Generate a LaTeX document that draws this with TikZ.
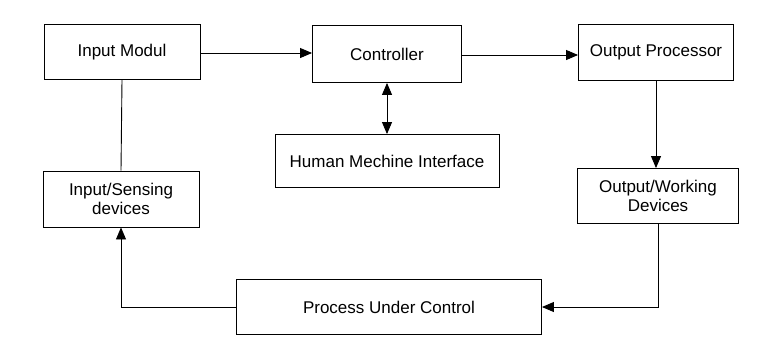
\documentclass[tikz,border=0pt]{standalone}
\usepackage{fontspec}
\setmainfont{Liberation Sans}
\usetikzlibrary{arrows.meta}
\begin{document}
\begin{tikzpicture}[x=1pt,y=-1pt,
  blk/.style={draw, line width=0.9pt, align=center, inner sep=0pt,
    font=\fontsize{17}{19.5}\selectfont},
  conn/.style={line width=0.9pt},
  arr/.style={conn, -{Triangle[length=12pt,width=10pt]}},
  darr/.style={conn, {Triangle[length=12pt,width=10pt]}-{Triangle[length=12pt,width=10pt]}}]
\useasboundingbox (0,0) rectangle (763,354);
\node[blk, minimum width=156pt, minimum height=55pt] (im) at (122,52) {Input Modul};
\node[blk, minimum width=149pt, minimum height=57pt] (ctl) at (387,54) {Controller};
\node[blk, minimum width=155pt, minimum height=56pt] (op) at (656,52) {Output Processor};
\node[blk, minimum width=224pt, minimum height=53pt] (hmi) at (387,161) {Human Mechine Interface};
\node[blk, minimum width=156pt, minimum height=56pt] (is) at (121,199) {Input/Sensing\\devices};
\node[blk, minimum width=161pt, minimum height=55pt] (ow) at (658,196) {Output/Working\\Devices};
\node[blk, minimum width=305pt, minimum height=55pt] (pc) at (389,307) {Process Under Control};
\draw[arr] (im.east |- 0,53) -- (ctl.west |- 0,53);
\draw[arr] (ctl.east |- 0,55) -- (op.west |- 0,55);
\draw[darr] (ctl.south) -- (hmi.north);
\draw[arr] (op.south) -- (ow.north -| op.south);
\draw[conn] (im.south) -- (is.north);
\draw[arr] (ow.south) |- (pc.east);
\draw[arr] (pc.west) -| (is.south);
\end{tikzpicture}
\end{document}
